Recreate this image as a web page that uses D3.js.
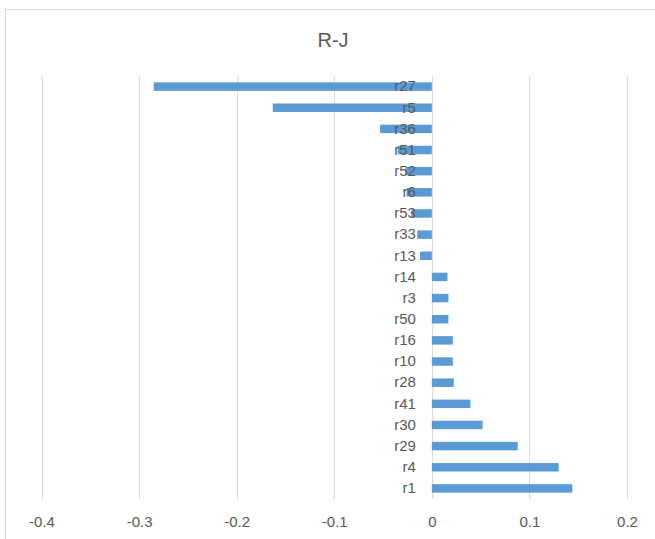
<!DOCTYPE html>
<html>
<head>
<meta charset="utf-8">
<script src="https://cdn.jsdelivr.net/npm/d3@7"></script>
<style>
  html, body { margin: 0; padding: 0; background: #fff; }
  svg { display: block; }
</style>
</head>
<body>
<svg id="chart" width="655" height="539"></svg>
<script>
// Categories from top to bottom, with their R-J values
const categories = ["r27", "r5", "r36", "r51", "r52", "r6", "r53", "r33", "r13",
  "r14", "r3", "r50", "r16", "r10", "r28", "r41", "r30", "r29", "r4", "r1"];
const values = [-0.285, -0.163, -0.053, -0.035, -0.027, -0.026, -0.021, -0.015, -0.012,
  0.016, 0.017, 0.017, 0.0215, 0.0215, 0.0225, 0.0396, 0.052, 0.088, 0.130, 0.144];
const xTicks = [-0.4, -0.3, -0.2, -0.1, 0, 0.1, 0.2];
const xTickLabels = ["-0.4", "-0.3", "-0.2", "-0.1", "0", "0.1", "0.2"];
const title = "R-J";

const svg = d3.select("#chart");
const font = "'Liberation Sans', Arial, sans-serif";
const grey = "#595959";
const lineGrey = "#d9d9d9";

// Chart frame (runs past the right and bottom edges)
svg.append("rect")
  .attr("x", 5.5).attr("y", 9.5)
  .attr("width", 700).attr("height", 600)
  .attr("fill", "#fff").attr("stroke", lineGrey).attr("stroke-width", 1);

const plot = { left: 41.5, right: 627, top: 76, bottom: 499 };

const x = d3.scaleLinear().domain([-0.4, 0.2]).range([plot.left, plot.right]);
const y = d3.scaleBand().domain(categories).range([plot.top, plot.bottom])
  .paddingInner(0.6).paddingOuter(0.3);

// Vertical gridlines
svg.append("g")
  .selectAll("line")
  .data(xTicks)
  .join("line")
  .attr("x1", d => Math.round(x(d)) + 0.5)
  .attr("x2", d => Math.round(x(d)) + 0.5)
  .attr("y1", plot.top).attr("y2", plot.bottom)
  .attr("stroke", lineGrey).attr("stroke-width", 1);

// Bars
svg.append("g")
  .selectAll("rect")
  .data(categories.map((c, i) => ({ c, v: values[i] })))
  .join("rect")
  .attr("x", d => x(Math.min(0, d.v)))
  .attr("width", d => Math.abs(x(d.v) - x(0)))
  .attr("y", d => y(d.c))
  .attr("height", y.bandwidth())
  .attr("fill", "#5b9bd5");

// Category axis labels, right-aligned next to the zero line
const yAxis = d3.axisLeft(y).tickSize(0).tickPadding(16);
const gy = svg.append("g")
  .attr("transform", `translate(${x(0)},0)`)
  .call(yAxis);
gy.select(".domain").remove();
gy.selectAll("text")
  .attr("fill", grey)
  .style("font-family", font)
  .style("font-size", "15px");

// Value axis labels
const xAxis = d3.axisBottom(x).tickValues(xTicks)
  .tickFormat((d, i) => xTickLabels[i]).tickSize(0).tickPadding(17);
const gx = svg.append("g")
  .attr("transform", `translate(0,${plot.bottom})`)
  .call(xAxis);
gx.select(".domain").remove();
gx.selectAll("text")
  .attr("fill", grey)
  .style("font-family", font)
  .style("font-size", "15px");

// Title
svg.append("text")
  .attr("x", 333).attr("y", 47)
  .attr("text-anchor", "middle")
  .attr("fill", grey)
  .style("font-family", font)
  .style("font-size", "20px")
  .text(title);
</script>
</body>
</html>
